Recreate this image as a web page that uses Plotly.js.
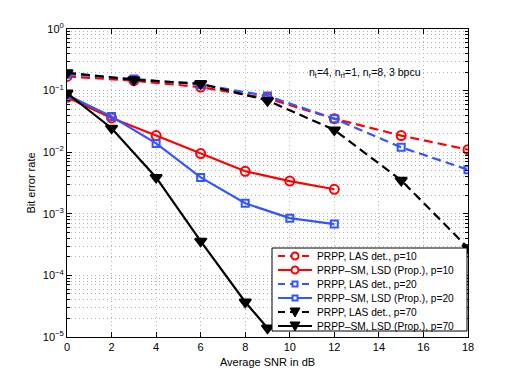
<!DOCTYPE html>
<html>
<head>
<meta charset="utf-8">
<script src="https://cdn.plot.ly/plotly-3.0.1.min.js"></script>
<style>html,body{margin:0;padding:0;background:#fff;}#chart{width:519px;height:381px;}</style>
</head>
<body>
<div id="chart"></div>
<script>
// ---- data ----
var snrLAS = [0, 3, 6, 9, 12, 15, 18];
var snrLSD = [0, 2, 4, 6, 8, 10, 12];
var snrLSD70 = [0, 2, 4, 6, 8, 9];

var berLAS10 = [0.17, 0.145, 0.114, 0.075, 0.035, 0.0186, 0.011];
var berLAS20 = [0.185, 0.155, 0.125, 0.082, 0.035, 0.012, 0.0052];
var berLAS70 = [0.195, 0.15, 0.13, 0.069, 0.023, 0.0035, 0.00028];
var berLSD10 = [0.078, 0.036, 0.0186, 0.0095, 0.0049, 0.0034, 0.0025];
var berLSD20 = [0.085, 0.038, 0.0139, 0.0039, 0.00148, 0.00085, 0.00068];
var berLSD70 = [0.091, 0.0245, 0.0039, 0.00036, 0.000037, 0.000014];

var seriesNames = [
  'PRPP, LAS det., p=10',
  'PRPP\u2013SM, LSD (Prop.), p=10',
  'PRPP, LAS det., p=20',
  'PRPP\u2013SM, LSD (Prop.), p=20',
  'PRPP, LAS det., p=70',
  'PRPP\u2013SM, LSD (Prop.), p=70'
];
var xTickVals = [0, 2, 4, 6, 8, 10, 12, 14, 16, 18];
var yTickVals = [1e-5, 1e-4, 1e-3, 1e-2, 1e-1, 1];
var yTickText = ['10<sup>\u22125</sup>', '10<sup>\u22124</sup>', '10<sup>\u22123</sup>', '10<sup>\u22122</sup>', '10<sup>\u22121</sup>', '10<sup>0</sup>'];
var xTitle = 'Average SNR in dB';
var yTitle = 'Bit error rate';
var noteText = 'n<sub>t</sub>=4, n<sub>rf</sub>=1, n<sub>r</sub>=8, 3 bpcu';

// ---- styles ----
var RED = '#ff0000', BLUE = '#3355ff', BLACK = '#000000';
var DASH = '9px,5px';
var styles = [
  {color: RED, dash: DASH, symbol: 'circle-open', size: 9},
  {color: RED, dash: 'solid', symbol: 'circle-open', size: 9},
  {color: BLUE, dash: DASH, symbol: 'square-open', size: 7},
  {color: BLUE, dash: 'solid', symbol: 'square-open', size: 7},
  {color: BLACK, dash: DASH, symbol: 'triangle-down', size: 10},
  {color: BLACK, dash: 'solid', symbol: 'triangle-down', size: 10}
];
var xs = [snrLAS, snrLSD, snrLAS, snrLSD, snrLAS, snrLSD70];
var ys = [berLAS10, berLSD10, berLAS20, berLSD20, berLAS70, berLSD70];

var traces = [];
for (var i = 0; i < 6; i++) {
  var s = styles[i];
  traces.push({
    x: xs[i], y: ys[i], name: seriesNames[i], type: 'scatter', mode: 'lines+markers',
    line: {color: s.color, width: 2.2, dash: s.dash},
    marker: {symbol: s.symbol, size: s.size, color: s.color, line: {color: s.color, width: 2}},
    showlegend: false
  });
}

// ---- layout geometry ----
var W = 519, H = 381, ML = 67, MR = 51, MT = 29, MB = 44;
var PW = W - ML - MR, PH = H - MT - MB;
function px(x) { return (x - ML) / PW; }
function py(y) { return (MT + PH - y) / PH; }

var shapes = [];
var annotations = [];
// custom legend box
shapes.push({type: 'rect', xref: 'paper', yref: 'paper', x0: px(272), x1: px(467), y0: py(331), y1: py(248),
  line: {color: '#000', width: 1}, fillcolor: '#fff', layer: 'above'});
for (var k = 0; k < 6; k++) {
  var st = styles[k];
  var rowY = py(256 + k * 14);
  shapes.push({type: 'line', xref: 'paper', yref: 'paper', x0: px(278), x1: px(312), y0: rowY, y1: rowY,
    line: {color: st.color, width: 2.2, dash: st.dash === 'solid' ? 'solid' : '7px,5px'}, layer: 'above'});
  var mx = px(295);
  if (st.symbol === 'circle-open') {
    shapes.push({type: 'circle', xref: 'paper', yref: 'paper', xsizemode: 'pixel', ysizemode: 'pixel',
      xanchor: mx, yanchor: rowY, x0: -3.5, x1: 3.5, y0: -3.5, y1: 3.5,
      line: {color: st.color, width: 2}, fillcolor: '#fff', layer: 'above'});
  } else if (st.symbol === 'square-open') {
    shapes.push({type: 'rect', xref: 'paper', yref: 'paper', xsizemode: 'pixel', ysizemode: 'pixel',
      xanchor: mx, yanchor: rowY, x0: -2.5, x1: 2.5, y0: -2.5, y1: 2.5,
      line: {color: st.color, width: 2}, fillcolor: '#fff', layer: 'above'});
  } else {
    shapes.push({type: 'path', xref: 'paper', yref: 'paper', xsizemode: 'pixel', ysizemode: 'pixel',
      xanchor: mx, yanchor: rowY, path: 'M-5,4 L5,4 L0,-5 Z',
      line: {color: st.color, width: 1}, fillcolor: st.color, layer: 'above'});
  }
  annotations.push({xref: 'paper', yref: 'paper', x: px(315), y: rowY, xanchor: 'left', yanchor: 'middle',
    text: seriesNames[k], showarrow: false, font: {size: 10.2, color: '#000'}});
}
annotations.push({xref: 'paper', yref: 'paper', x: px(365), y: py(73), xanchor: 'center', yanchor: 'middle',
  text: noteText, showarrow: false, font: {size: 10.5, color: '#000'}});

var gridCol = '#b4b4b4';
var GD = '1px,3px';
var layout = {
  width: W, height: H, autosize: false,
  margin: {l: ML, r: MR, t: MT, b: MB, pad: 0},
  paper_bgcolor: '#fff', plot_bgcolor: '#fff',
  font: {family: 'Liberation Sans, Arial, sans-serif', size: 11, color: '#000'},
  showlegend: false,
  xaxis: {
    range: [0, 18], tickmode: 'array', tickvals: xTickVals,
    ticks: 'inside', ticklen: 5, tickcolor: '#000', mirror: 'ticks', showline: true, linecolor: '#000', linewidth: 1,
    showgrid: true, gridcolor: gridCol, griddash: GD, gridwidth: 1, zeroline: false,
    title: {text: xTitle, font: {size: 11}, standoff: 6},
    tickfont: {size: 11}
  },
  yaxis: {
    type: 'log', range: [-5, 0], tickmode: 'array', tickvals: yTickVals, ticktext: yTickText,
    ticks: 'inside', ticklen: 5, tickcolor: '#000', mirror: 'ticks', showline: true, linecolor: '#000', linewidth: 1,
    showgrid: true, gridcolor: gridCol, griddash: GD, gridwidth: 1, zeroline: false,
    minor: {dtick: 'D1', showgrid: true, gridcolor: gridCol, griddash: GD, gridwidth: 1, ticks: 'inside', ticklen: 3, tickcolor: '#000'},
    title: {text: yTitle, font: {size: 11}, standoff: 4},
    tickfont: {size: 11}
  },
  shapes: shapes,
  annotations: annotations
};

Plotly.newPlot('chart', traces, layout, {staticPlot: true, displayModeBar: false});
</script>
</body>
</html>
